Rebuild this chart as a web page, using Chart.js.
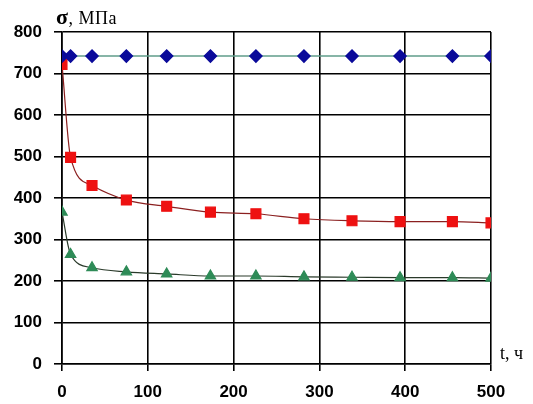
<!DOCTYPE html>
<html>
<head>
<meta charset="utf-8">
<script src="https://cdn.jsdelivr.net/npm/chart.js@4.4.0/dist/chart.umd.min.js"></script>
<style>
  html, body { margin: 0; padding: 0; background: #fff; }
  #wrap { position: relative; width: 533px; height: 404px; }
  .lbl { position: absolute; font-family: "Liberation Serif", "Times New Roman", serif; color: #000; white-space: nowrap; }
  #ytitle { left: 56px; top: 4px; font-size: 18px; letter-spacing: 0.5px; }
  #ytitle b { font-size: 22px; }
  #xtitle { left: 500px; top: 343px; font-size: 18px; }
</style>
</head>
<body>
<div id="wrap">
  <canvas id="stressChart" width="533" height="404"></canvas>
  <div class="lbl" id="ytitle"><b>σ</b>, МПа</div>
  <div class="lbl" id="xtitle">t, ч</div>
</div>
<script>
// время выдержки, ч
const times = [0, 10, 35, 75, 122, 173, 226, 282, 338, 394, 455, 500];
// напряжение, МПа
const blueVals = [742, 742, 742, 742, 742, 742, 742, 742, 742, 742, 742, 742];
const redVals = [722, 498, 430, 395, 380, 366, 362, 350, 345, 343, 343, 340];
const greenVals = [366, 264, 232, 222, 217, 212, 212, 210, 209, 208, 208, 207];
const xTicks = [0, 100, 200, 300, 400, 500];
const yTicks = [0, 100, 200, 300, 400, 500, 600, 700, 800];

const ctx = document.getElementById('stressChart').getContext('2d');

function points(vals) {
    return times.map((t, i) => ({ x: t, y: vals[i] }));
}

Chart.defaults.font.family = 'Arial, "Liberation Sans", sans-serif';

const stressChart = new Chart(ctx, {
    type: 'line',
    data: {
        datasets: [
            {
                data: points(blueVals),
                borderColor: '#5f9c8a',
                borderWidth: 1.5,
                pointStyle: 'rectRot',
                pointRadius: 6,
                pointBackgroundColor: '#0a0a9a',
                pointBorderColor: '#0a0a9a',
                tension: 0
            },
            {
                data: points(redVals),
                borderColor: '#8b2020',
                borderWidth: 1.2,
                pointStyle: 'rect',
                pointRadius: 7,
                pointBackgroundColor: '#ee1111',
                pointBorderColor: '#ee1111',
                cubicInterpolationMode: 'monotone'
            },
            {
                data: points(greenVals),
                borderColor: '#2a3a2a',
                borderWidth: 1.2,
                pointStyle: 'triangle',
                pointRadius: 6,
                pointBackgroundColor: '#2e8b57',
                pointBorderColor: '#2e8b57',
                cubicInterpolationMode: 'monotone'
            }
        ]
    },
    options: {
        responsive: false,
        animation: false,
        layout: { padding: { top: 32, right: 42, left: 0, bottom: 0 } },
        plugins: {
            legend: { display: false },
            tooltip: { enabled: false }
        },
        scales: {
            x: {
                type: 'linear',
                min: 0,
                max: 500,
                afterBuildTicks: s => { s.ticks = xTicks.map(v => ({ value: v })); },
                afterFit: s => { s.height = 40; },
                grid: { color: '#000', lineWidth: 1.6, tickLength: 7 },
                border: { color: '#000', width: 1.6 },
                ticks: { color: '#000', font: { size: 17, weight: 'bold' }, padding: 11, maxRotation: 0 }
            },
            y: {
                min: 0,
                max: 800,
                afterBuildTicks: s => { s.ticks = yTicks.map(v => ({ value: v })); },
                afterFit: s => { s.width = 62; },
                grid: { color: '#000', lineWidth: 1.6, tickLength: 8 },
                border: { color: '#000', width: 1.6 },
                ticks: { color: '#000', font: { size: 17, weight: 'bold' }, padding: 12 }
            }
        }
    }
});
</script>
</body>
</html>
